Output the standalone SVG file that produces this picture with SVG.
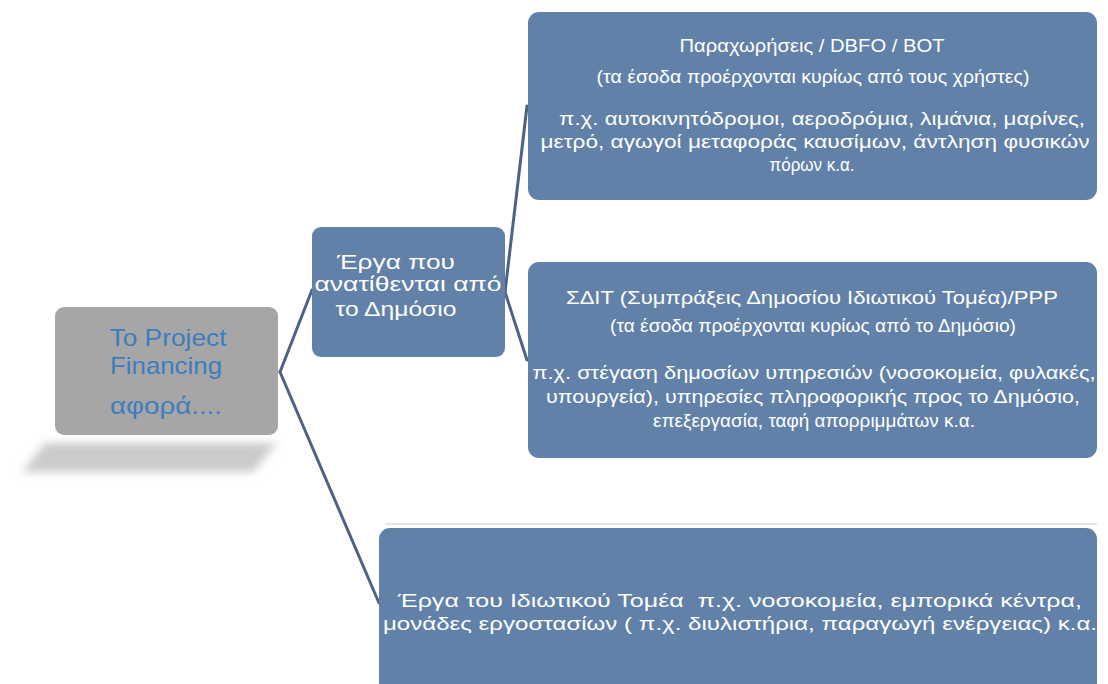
<svg xmlns="http://www.w3.org/2000/svg" width="1108" height="684" viewBox="0 0 1108 684">
<style>
.box{fill:#6181a8;}
.wt{fill:#ffffff;font-family:"Liberation Sans","DejaVu Sans",sans-serif;font-size:19px;text-anchor:middle;white-space:pre;}
.conn{stroke:#4b6388;stroke-width:3;fill:none;stroke-linecap:round;}
.lt{fill:#3d7dbf;font-family:"Liberation Sans","DejaVu Sans",sans-serif;font-size:24px;text-anchor:middle;}
</style>
<defs>
<filter id="blur" x="-20%" y="-50%" width="140%" height="200%"><feGaussianBlur stdDeviation="4"/></filter>
</defs>
<rect width="1108" height="684" fill="#ffffff"/>
<g id="connectors">
<line class="conn" x1="280" y1="372" x2="312" y2="290"/>
<line class="conn" x1="280" y1="372" x2="379" y2="603"/>
<line class="conn" x1="505" y1="292" x2="527" y2="106"/>
<line class="conn" x1="505" y1="292" x2="527" y2="360"/>
</g>
<g id="root">
<polygon points="45,443 277,443 253,472 22,472" fill="#cbcbcb" filter="url(#blur)"/>
<rect x="55" y="307" width="223" height="128" rx="9" fill="#a6a6a6"/>
<text class="lt" x="168" y="346" textLength="117" lengthAdjust="spacingAndGlyphs">Το Project</text>
<text class="lt" x="166" y="374" textLength="112" lengthAdjust="spacingAndGlyphs">Financing</text>
<text class="lt" x="166" y="414" textLength="112" lengthAdjust="spacingAndGlyphs">αφορά....</text>
</g>
<g id="public">
<rect class="box" x="312" y="227" width="193" height="130" rx="9"/>
<text class="wt" x="396" y="269" textLength="118" lengthAdjust="spacingAndGlyphs" style="font-size:20px">Έργα που</text>
<text class="wt" x="408" y="291" textLength="187" lengthAdjust="spacingAndGlyphs" style="font-size:20px">ανατίθενται από</text>
<text class="wt" x="396" y="316" textLength="121" lengthAdjust="spacingAndGlyphs" style="font-size:20px">το Δημόσιο</text>
</g>
<g id="concessions">
<rect class="box" x="528" y="12" width="569" height="188" rx="11"/>
<text class="wt" x="812" y="52" textLength="265" lengthAdjust="spacingAndGlyphs">Παραχωρήσεις / DBFO / BOT</text>
<text class="wt" x="813" y="83" textLength="433" lengthAdjust="spacingAndGlyphs">(τα έσοδα προέρχονται κυρίως από τους χρήστες)</text>
<text class="wt" x="822" y="125" textLength="526" lengthAdjust="spacingAndGlyphs">π.χ. αυτοκινητόδρομοι, αεροδρόμια, λιμάνια, μαρίνες,</text>
<text class="wt" x="815" y="148" textLength="549" lengthAdjust="spacingAndGlyphs">μετρό, αγωγοί μεταφοράς καυσίμων, άντληση φυσικών</text>
<text class="wt" x="812" y="171" textLength="85" lengthAdjust="spacingAndGlyphs">πόρων κ.α.</text>
</g>
<g id="ppp">
<rect class="box" x="528" y="262" width="569" height="196" rx="11"/>
<text class="wt" x="812" y="304" textLength="492" lengthAdjust="spacingAndGlyphs">ΣΔΙΤ (Συμπράξεις Δημοσίου Ιδιωτικού Τομέα)/PPP</text>
<text class="wt" x="813" y="332" textLength="406" lengthAdjust="spacingAndGlyphs">(τα έσοδα προέρχονται κυρίως από το Δημόσιο)</text>
<text class="wt" x="814" y="379" textLength="563" lengthAdjust="spacingAndGlyphs">π.χ. στέγαση δημοσίων υπηρεσιών (νοσοκομεία, φυλακές,</text>
<text class="wt" x="813" y="403" textLength="534" lengthAdjust="spacingAndGlyphs">υπουργεία), υπηρεσίες πληροφορικής προς το Δημόσιο,</text>
<text class="wt" x="814" y="427" textLength="322" lengthAdjust="spacingAndGlyphs">επεξεργασία, ταφή απορριμμάτων κ.α.</text>
</g>
<g id="private">
<line x1="385" y1="524" x2="1097" y2="524" stroke="#e2ded8" stroke-width="1.5"/>
<rect class="box" x="379" y="528" width="718" height="180" rx="11"/>
<text class="wt" x="740" y="607" textLength="684" lengthAdjust="spacingAndGlyphs" xml:space="preserve">Έργα του Ιδιωτικού Τομέα  π.χ. νοσοκομεία, εμπορικά κέντρα,</text>
<text class="wt" x="740" y="630" textLength="714" lengthAdjust="spacingAndGlyphs">μονάδες εργοστασίων ( π.χ. διυλιστήρια, παραγωγή ενέργειας) κ.α.</text>
</g>
</svg>
